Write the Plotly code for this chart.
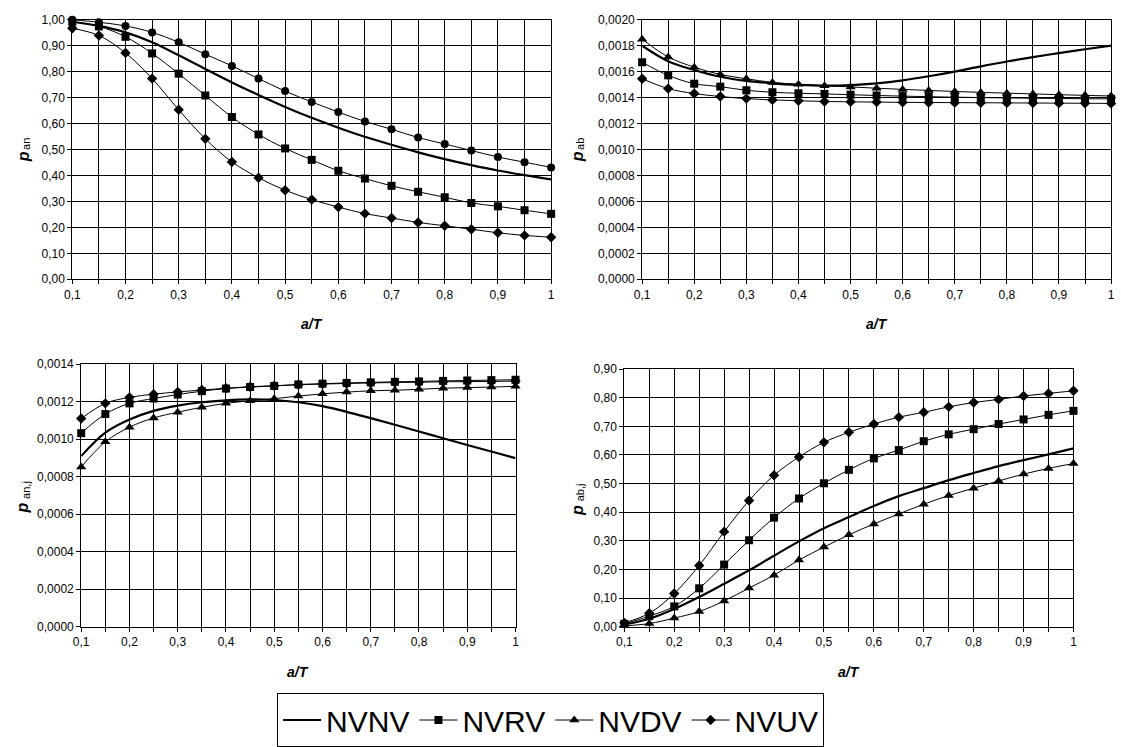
import plotly.graph_objects as go

# a/T categories shared by all four panels
a_T = [0.10, 0.15, 0.20, 0.25, 0.30, 0.35, 0.40, 0.45, 0.50, 0.55,
       0.60, 0.65, 0.70, 0.75, 0.80, 0.85, 0.90, 0.95, 1.00]
# labelled ticks (every second category)
x_tick_vals = [0.1, 0.2, 0.3, 0.4, 0.5, 0.6, 0.7, 0.8, 0.9, 1.0]
x_tick_text = ["0,1", "0,2", "0,3", "0,4", "0,5", "0,6", "0,7", "0,8", "0,9", "1"]

# p_an
p_an_NVNV = [0.992, 0.976, 0.951, 0.913, 0.863, 0.810, 0.758, 0.710, 0.664, 0.622,
             0.584, 0.549, 0.518, 0.489, 0.463, 0.440, 0.419, 0.401, 0.385]
p_an_NVRV = [0.992, 0.974, 0.934, 0.870, 0.792, 0.708, 0.625, 0.558, 0.504, 0.460,
             0.418, 0.388, 0.360, 0.337, 0.316, 0.294, 0.281, 0.266, 0.252]
p_an_NVDV = [1.000, 0.990, 0.976, 0.951, 0.913, 0.867, 0.822, 0.773, 0.725, 0.683,
             0.644, 0.608, 0.578, 0.546, 0.521, 0.496, 0.471, 0.451, 0.431]
p_an_NVUV = [0.967, 0.939, 0.872, 0.773, 0.653, 0.541, 0.452, 0.391, 0.343, 0.307,
             0.278, 0.253, 0.236, 0.219, 0.206, 0.193, 0.179, 0.169, 0.162]

# p_ab
p_ab_NVNV = [0.001800, 0.001680, 0.001612, 0.001560, 0.001528, 0.001510, 0.001498, 0.001492, 0.001496, 0.001510,
             0.001533, 0.001564, 0.001600, 0.001640, 0.001678, 0.001712, 0.001743, 0.001772, 0.001800]
p_ab_NVRV = [0.001672, 0.001571, 0.001507, 0.001484, 0.001456, 0.001441, 0.001433, 0.001428, 0.001422, 0.001416,
             0.001411, 0.001407, 0.001403, 0.001400, 0.001397, 0.001395, 0.001393, 0.001391, 0.001390]
p_ab_NVDV = [0.001850, 0.001713, 0.001634, 0.001578, 0.001545, 0.001517, 0.001502, 0.001492, 0.001482, 0.001472,
             0.001463, 0.001455, 0.001447, 0.001440, 0.001434, 0.001428, 0.001422, 0.001417, 0.001412]
p_ab_NVUV = [0.001545, 0.001469, 0.001431, 0.001408, 0.001392, 0.001382, 0.001375, 0.001370, 0.001367, 0.001365,
             0.001363, 0.001362, 0.001361, 0.001360, 0.001359, 0.001358, 0.001357, 0.001356, 0.001355]

# p_an,j
p_anj_NVNV = [0.000910, 0.001035, 0.001105, 0.001151, 0.001179, 0.001197, 0.001207, 0.001212, 0.001209, 0.001197,
              0.001176, 0.001146, 0.001112, 0.001077, 0.001041, 0.001005, 0.000969, 0.000934, 0.000899]
p_anj_NVRV = [0.001032, 0.001134, 0.001191, 0.001217, 0.001238, 0.001256, 0.001270, 0.001278, 0.001284, 0.001292,
              0.001296, 0.001300, 0.001303, 0.001306, 0.001308, 0.001311, 0.001313, 0.001315, 0.001317]
p_anj_NVDV = [0.000852, 0.000986, 0.001064, 0.001113, 0.001144, 0.001170, 0.001191, 0.001205, 0.001216, 0.001230,
              0.001242, 0.001251, 0.001258, 0.001261, 0.001266, 0.001272, 0.001275, 0.001278, 0.001282]
p_anj_NVUV = [0.001110, 0.001191, 0.001223, 0.001240, 0.001252, 0.001262, 0.001272, 0.001280, 0.001285, 0.001290,
              0.001294, 0.001297, 0.001300, 0.001302, 0.001304, 0.001306, 0.001307, 0.001308, 0.001310]

# p_ab,j
p_abj_NVNV = [0.008, 0.028, 0.062, 0.104, 0.150, 0.197, 0.248, 0.298, 0.344, 0.383,
              0.422, 0.456, 0.484, 0.512, 0.537, 0.561, 0.582, 0.602, 0.623]
p_abj_NVRV = [0.010, 0.037, 0.071, 0.134, 0.217, 0.302, 0.381, 0.448, 0.501, 0.548,
              0.588, 0.617, 0.648, 0.672, 0.690, 0.708, 0.724, 0.740, 0.754]
p_abj_NVDV = [0.003, 0.011, 0.030, 0.053, 0.090, 0.135, 0.180, 0.233, 0.278, 0.321,
              0.359, 0.394, 0.428, 0.458, 0.484, 0.509, 0.533, 0.553, 0.570]
p_abj_NVUV = [0.0135, 0.047, 0.116, 0.214, 0.332, 0.441, 0.529, 0.593, 0.644, 0.679,
              0.708, 0.732, 0.749, 0.768, 0.783, 0.794, 0.806, 0.815, 0.824]

W, H = 1121, 747
FONT = "Liberation Sans, Arial, sans-serif"

# plot-area rectangles in pixels: (left, right, top, bottom); y-title subscripts
panels = [
    dict(box=(65, 549, 13, 279), yrange=[0, 1.0], dtick=0.1, fmt=".2f", sub="an", ytx=15, xty=325,
         series=[p_an_NVNV, p_an_NVRV, p_an_NVDV, p_an_NVUV], dv_symbol="circle"),
    dict(box=(641, 1115, 13, 279), yrange=[0, 0.002], dtick=0.0002, fmt=".4f", sub="ab", ytx=575, xty=325,
         series=[p_ab_NVNV, p_ab_NVRV, p_ab_NVDV, p_ab_NVUV], dv_symbol="triangle-up"),
    dict(box=(74, 513, 366, 635), yrange=[0, 0.0014], dtick=0.0002, fmt=".4f", sub="an,j", ytx=15, xty=681,
         series=[p_anj_NVNV, p_anj_NVRV, p_anj_NVDV, p_anj_NVUV], dv_symbol="triangle-up"),
    dict(box=(623, 1077, 371, 635), yrange=[0, 0.9], dtick=0.1, fmt=".2f", sub="ab,j", ytx=575, xty=681,
         series=[p_abj_NVNV, p_abj_NVRV, p_abj_NVDV, p_abj_NVUV], dv_symbol="triangle-up"),
]

names = ["NVNV", "NVRV", "NVDV", "NVUV"]
SUB_SIZE = 11
P_SIZE = 16

fig = go.Figure()
annotations = []
layout_axes = {}

for i, p in enumerate(panels):
    k = "" if i == 0 else str(i + 1)
    xa, ya = "x" + k, "y" + k
    left, right, top, bottom = p["box"]
    legend_panel = (i == 1)
    styles = [
        dict(mode="lines", line=dict(color="black", width=2.2, shape="spline"), marker=dict(symbol="circle", size=8)),
        dict(mode="lines+markers", line=dict(color="black", width=1, shape="spline"), marker=dict(symbol="square", size=8, color="black")),
        dict(mode="lines+markers", line=dict(color="black", width=1, shape="spline"), marker=dict(symbol=p["dv_symbol"], size=8 if p["dv_symbol"] == "circle" else 9, color="black")),
        dict(mode="lines+markers", line=dict(color="black", width=1, shape="spline"), marker=dict(symbol="diamond", size=8, color="black")),
    ]
    for j, (name, ys) in enumerate(zip(names, p["series"])):
        fig.add_trace(go.Scatter(x=a_T, y=ys, name=name, xaxis=xa, yaxis=ya,
                                 showlegend=legend_panel, legendrank=j + 1,
                                 cliponaxis=False, **styles[j]))

    axis_common = dict(showline=True, linecolor="black", linewidth=1, mirror=True,
                       showgrid=True, gridcolor="#000000", gridwidth=1.2, zeroline=False,
                       ticks="outside", ticklen=4, tickcolor="black",
                       tickfont=dict(family=FONT, size=12, color="black"))
    layout_axes["xaxis" + k] = dict(domain=[left / W, right / W], anchor=ya, range=[0.1, 1.0],
                                    tickvals=x_tick_vals, ticktext=x_tick_text,
                                    minor=dict(dtick=0.05, tick0=0.1, ticks="outside", ticklen=4,
                                               tickcolor="black", showgrid=True, gridcolor="#000000", gridwidth=1.2),
                                    **axis_common)
    layout_axes["yaxis" + k] = dict(domain=[1 - bottom / H, 1 - top / H], anchor=xa, range=p["yrange"],
                                    dtick=p["dtick"], tick0=0, tickformat=p["fmt"], **axis_common)

    # rotated y title: bold italic "p" followed by a smaller subscript
    cy = (top + bottom) / 2
    p_len = 10
    sub_len = SUB_SIZE * 0.5 * len(p["sub"]) + 2
    total = p_len + 1 + sub_len
    p_center = cy + total / 2 - p_len / 2
    sub_center = cy - total / 2 + sub_len / 2
    annotations.append(dict(text="p", xref="paper", yref="paper", x=p["ytx"] / W, y=1 - p_center / H,
                            textangle=-90, showarrow=False, xanchor="center", yanchor="middle",
                            font=dict(family=FONT, size=P_SIZE, color="black", weight="bold", style="italic")))
    annotations.append(dict(text=p["sub"], xref="paper", yref="paper", x=(p["ytx"] + 3) / W, y=1 - sub_center / H,
                            textangle=-90, showarrow=False, xanchor="center", yanchor="middle",
                            font=dict(family=FONT, size=SUB_SIZE, color="black")))
    annotations.append(dict(text="a/T", xref="paper", yref="paper", x=(left + right) / 2 / W, y=1 - p["xty"] / H,
                            showarrow=False, xanchor="center", yanchor="middle",
                            font=dict(family=FONT, size=14, color="black", weight="bold", style="italic")))

fig.update_layout(
    width=W, height=H,
    margin=dict(l=0, r=0, t=0, b=0),
    paper_bgcolor="white", plot_bgcolor="white",
    separators=",.",
    font=dict(family=FONT, color="black"),
    showlegend=True,
    legend=dict(orientation="h", x=272 / W, y=1 - 703 / H, xanchor="left", yanchor="top",
                bordercolor="black", borderwidth=1, bgcolor="white",
                font=dict(family=FONT, size=30, color="black"),
                itemwidth=38, tracegroupgap=0),
    annotations=annotations,
    **layout_axes,
)

fig.write_html("out.html")
